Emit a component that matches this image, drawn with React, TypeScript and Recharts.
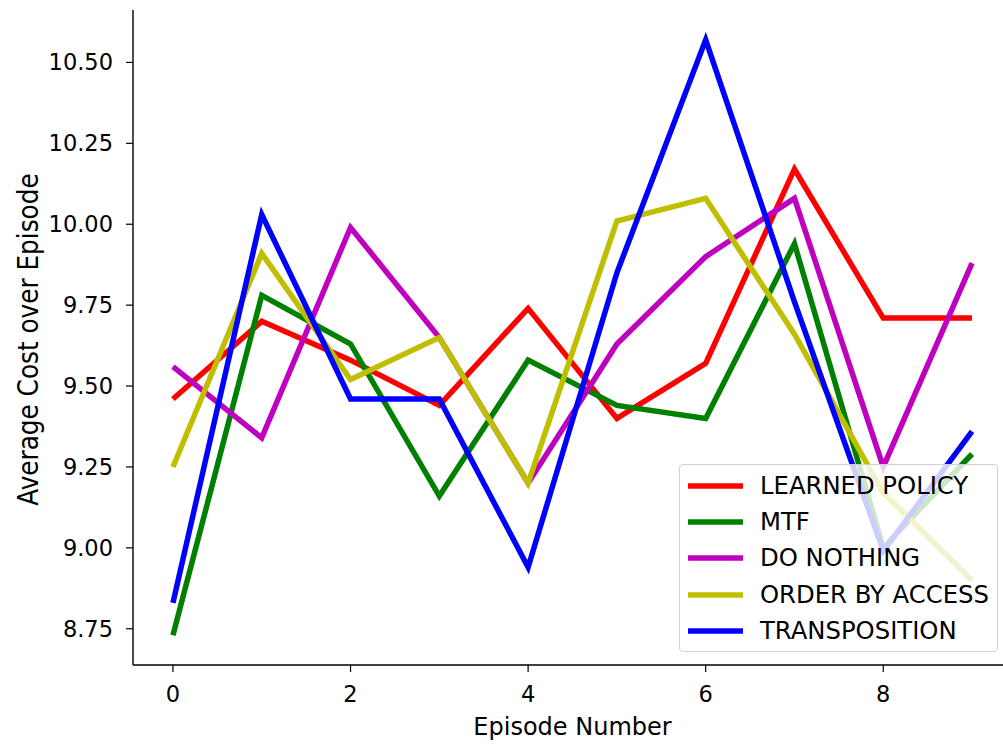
import React from "react";
import { LineChart, Line, XAxis, YAxis } from "recharts";

const episodes = [0, 1, 2, 3, 4, 5, 6, 7, 8, 9];
const learnedPolicy = [9.46, 9.70, 9.58, 9.44, 9.74, 9.40, 9.57, 10.17, 9.71, 9.71];
const mtf = [8.73, 9.78, 9.63, 9.16, 9.58, 9.44, 9.40, 9.94, 9.00, 9.29];
const doNothing = [9.56, 9.34, 9.99, 9.65, 9.20, 9.63, 9.90, 10.08, 9.25, 9.88];
const orderByAccess = [9.25, 9.91, 9.52, 9.65, 9.20, 10.01, 10.08, 9.66, 9.17, 8.90];
const transposition = [8.83, 10.03, 9.46, 9.46, 8.94, 9.85, 10.57, 9.76, 8.99, 9.36];

const xTicks = [0, 2, 4, 6, 8];
const yTicks = [8.75, 9.0, 9.25, 9.5, 9.75, 10.0, 10.25, 10.5];

const seriesNames = ["LEARNED POLICY", "MTF", "DO NOTHING", "ORDER BY ACCESS", "TRANSPOSITION"];
const seriesValues = [learnedPolicy, mtf, doNothing, orderByAccess, transposition];
const seriesColors = ["#ff0000", "#008000", "#bf00bf", "#bfbf00", "#0000ff"];
const seriesKeys = ["learned", "mtf", "nothing", "order", "transp"];

const data = episodes.map((ep, i) => {
  const row: Record<string, number> = { ep };
  seriesKeys.forEach((k, j) => {
    row[k] = seriesValues[j][i];
  });
  return row;
});

const FONT = "'DejaVu Sans', Verdana, sans-serif";

const LegendBox = () => (
  <div
    style={{
      position: "absolute",
      left: 679,
      top: 464,
      width: 319,
      height: 188,
      boxSizing: "border-box",
      border: "1px solid #d0d0d0",
      borderRadius: 4,
      background: "rgba(255,255,255,0.8)",
      fontFamily: FONT,
    }}
  >
    {seriesNames.map((name, i) => (
      <div
        key={name}
        style={{
          position: "absolute",
          left: 0,
          top: 20.6 + i * 36.3 - 18,
          height: 36,
          display: "flex",
          alignItems: "center",
          whiteSpace: "nowrap",
        }}
      >
        <svg width={80} height={36} style={{ display: "block" }}>
          <line x1={8} x2={63} y1={18} y2={18} stroke={seriesColors[i]} strokeWidth={5.5} />
        </svg>
        <span style={{ fontSize: 24.3, color: "#000", lineHeight: "36px" }}>{name}</span>
      </div>
    ))}
  </div>
);

export default function App() {
  return (
    <div
      style={{
        position: "fixed",
        left: 0,
        top: 0,
        width: 1003,
        height: 744,
        overflow: "hidden",
        background: "#fff",
      }}
    >
      <LineChart
        width={1020}
        height={744}
        data={data}
        margin={{ top: 10, right: 8, bottom: 0, left: 0 }}
      >
        <XAxis
          xAxisId="top"
          orientation="top"
          dataKey="ep"
          type="number"
          domain={[-0.45, 9.45]}
          height={0}
          tick={false}
          tickLine={false}
          axisLine={{ stroke: "#000", strokeWidth: 1.4 }}
        />
        <XAxis
          dataKey="ep"
          type="number"
          domain={[-0.45, 9.45]}
          ticks={xTicks}
          allowDataOverflow
          height={79}
          tickSize={7}
          tickMargin={14}
          axisLine={{ stroke: "#000", strokeWidth: 1.4 }}
          tickLine={{ stroke: "#000", strokeWidth: 1.2 }}
          tick={{ fill: "#000", fontSize: 22.5, fontFamily: FONT }}
          label={{
            value: "Episode Number",
            position: "insideBottom",
            offset: 9,
            fill: "#000",
            fontSize: 24,
            fontFamily: FONT,
          }}
        />
        <YAxis
          type="number"
          domain={[8.638, 10.662]}
          ticks={yTicks}
          allowDataOverflow
          width={133}
          tickSize={7}
          tickMargin={13}
          tickFormatter={(v: number) => v.toFixed(2)}
          axisLine={{ stroke: "#000", strokeWidth: 1.4 }}
          tickLine={{ stroke: "#000", strokeWidth: 1.2 }}
          tick={{ fill: "#000", fontSize: 22.5, fontFamily: FONT }}
          label={{
            content: (props: any) => {
              const vb = props.viewBox || { y: 10, height: 655 };
              const cy = vb.y + vb.height / 2 + 2;
              return (
                <text
                  transform={`translate(38, ${cy}) rotate(-90)`}
                  textAnchor="middle"
                  fill="#000"
                  fontSize={27.5}
                  fontFamily="'DejaVu Sans Condensed', 'Liberation Sans Narrow', 'DejaVu Sans', sans-serif"
                  style={{ fontStretch: "condensed" }}
                >
                  Average Cost over Episode
                </text>
              );
            },
          }}
        />
        {seriesKeys.map((k, i) => (
          <Line
            key={k}
            dataKey={k}
            name={seriesNames[i]}
            stroke={seriesColors[i]}
            strokeWidth={5.5}
            dot={false}
            activeDot={false}
            type="linear"
            isAnimationActive={false}
          />
        ))}
      </LineChart>
      <LegendBox />
    </div>
  );
}
